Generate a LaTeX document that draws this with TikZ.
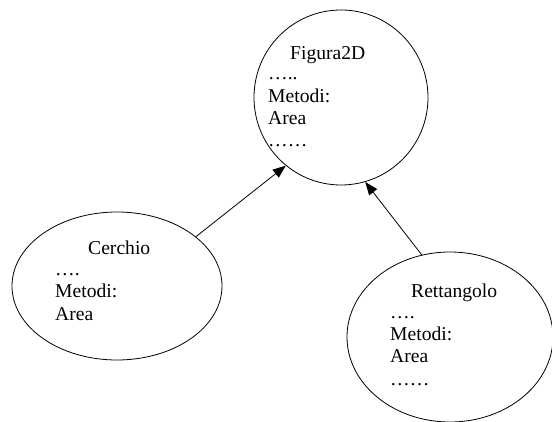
\documentclass[tikz,border=0pt]{standalone}
\usepackage{fontspec}
\setmainfont{Liberation Serif}
\usetikzlibrary{shapes}
\usetikzlibrary{arrows.meta}

\begin{document}
\begin{tikzpicture}[x=1pt,y=1pt]
\tikzstyle{freccia}=[-{Triangle[length=13pt,width=10pt]},line width=0.8pt]
\tikzset{classe/.style={draw,ellipse,line width=0.8pt,inner sep=0pt},
testo/.style={inner sep=0pt,anchor=base west,align=left,
font=\fontsize{19.6}{22.3}\selectfont}}
\useasboundingbox (0,0) rectangle (552,421);
\clip (0,0) rectangle (552,421);
\node [classe,minimum width=174,minimum height=175] (figura) at (341,323.5) {};
\node [classe,minimum width=210,minimum height=148] (cerchio) at (117,135) {};
\node [classe,minimum width=206,minimum height=170] (rettangolo) at (450,84) {};
% il punto base e' l'ultima riga
\node [testo] (tfigura) at (290,361.7) {Figura2D};
\node [testo] (cfigura) at (268,274.3) {…..\\Metodi:\\Area\\……};
\node [testo] (tcerchio) at (88,166.7) {Cerchio};
\node [testo] (ccerchio) at (55,101) {….\\Metodi:\\Area};
\node [testo] (trettangolo) at (411,123.7) {Rettangolo};
\node [testo] (crettangolo) at (390,36) {….\\Metodi:\\Area\\……};
\draw [freccia] (cerchio.32.6) -- (figura.231.6);
\draw [freccia] (rettangolo.109.4) -- (figura.286.2);
\end{tikzpicture}
\end{document}
